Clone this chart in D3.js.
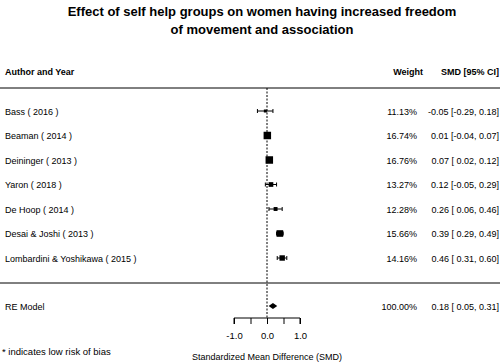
<!DOCTYPE html>
<html>
<head>
<meta charset="utf-8">
<script src="https://cdn.jsdelivr.net/npm/d3@7"></script>
<style>
body { margin: 0; background: #fff; }
text { font-family: "Liberation Sans", Arial, sans-serif; fill: #000; }
</style>
</head>
<body>
<div id="chart"></div>
<script>
var studies = ["Bass ( 2016 )", "Beaman ( 2014 )", "Deininger ( 2013 )", "Yaron ( 2018 )",
    "De Hoop ( 2014 )", "Desai & Joshi ( 2013 )", "Lombardini & Yoshikawa ( 2015 )"];
var smd = [-0.05, 0.01, 0.07, 0.12, 0.26, 0.39, 0.46];
var lower = [-0.29, -0.04, 0.02, -0.05, 0.06, 0.29, 0.31];
var upper = [0.18, 0.07, 0.12, 0.29, 0.46, 0.49, 0.60];
var weights = [11.13, 16.74, 16.76, 13.27, 12.28, 15.66, 14.16];
var pooled = { smd: 0.18, lower: 0.05, upper: 0.31, weight: 100.00 };
var ticks = [-1, -0.5, 0, 0.5, 1];
var tickLabels = ["-1.0", "", "0.0", "", "1.0"];

var svgWidth = 500, svgHeight = 364;

var svg = d3.select("#chart").append("svg")
    .attr("width", svgWidth)
    .attr("height", svgHeight);

var x = d3.scaleLinear().domain([-1, 1]).range([234, 300]);
var y = d3.scaleLinear().domain([0, 6]).range([111, 258]);
var boxSize = d3.scaleLinear().domain([d3.min(weights), d3.max(weights)]).range([3, 7.5]);

function fmt(v) {
    return (v < 0 ? "" : " ") + v.toFixed(2);
}
function ciText(m, lo, hi) {
    return m.toFixed(2) + " [" + fmt(lo) + ", " + hi.toFixed(2) + "]";
}

// title
svg.selectAll(".title")
    .data(["Effect of self help groups on women having increased freedom", "of movement and association"])
    .enter()
    .append("text")
    .attr("x", 262)
    .attr("y", function(d, i) { return 16 + i * 18; })
    .attr("text-anchor", "middle")
    .style("font-size", "13px")
    .style("font-weight", "bold")
    .text(function(d) { return d; });

// headers
svg.append("text").attr("x", 5).attr("y", 75).style("font-size", "9px").style("font-weight", "bold")
    .text("Author and Year");
svg.append("text").attr("x", 423).attr("y", 75).attr("text-anchor", "end")
    .style("font-size", "9px").style("font-weight", "bold").text("Weight");
svg.append("text").attr("x", 499).attr("y", 75).attr("text-anchor", "end")
    .style("font-size", "9px").style("font-weight", "bold").text("SMD [95% CI]");

// separator lines
svg.selectAll(".sep")
    .data([88, 283])
    .enter()
    .append("line")
    .attr("x1", 0).attr("x2", svgWidth)
    .attr("y1", function(d) { return d; })
    .attr("y2", function(d) { return d; })
    .attr("stroke", "#000")
    .attr("stroke-width", 1);

// reference line at 0
svg.append("line")
    .attr("x1", x(0)).attr("x2", x(0))
    .attr("y1", 88).attr("y2", 318)
    .attr("stroke", "#000")
    .attr("stroke-dasharray", "2,1.5");

var rows = svg.selectAll(".row")
    .data(studies)
    .enter()
    .append("g")
    .attr("transform", function(d, i) { return "translate(0," + y(i) + ")"; });

rows.append("text")
    .attr("x", 5).attr("y", 3.5)
    .style("font-size", "9px")
    .text(function(d) { return d; });

rows.append("line")
    .attr("x1", function(d, i) { return x(lower[i]); })
    .attr("x2", function(d, i) { return x(upper[i]); })
    .attr("y1", 0).attr("y2", 0)
    .attr("stroke", "#000");

rows.selectAll(".cap")
    .data(function(d, i) { return [lower[i], upper[i]]; })
    .enter()
    .append("line")
    .attr("x1", function(d) { return x(d); })
    .attr("x2", function(d) { return x(d); })
    .attr("y1", -2).attr("y2", 2)
    .attr("stroke", "#000");

rows.append("rect")
    .attr("x", function(d, i) { return x(smd[i]) - boxSize(weights[i]) / 2; })
    .attr("y", function(d, i) { return -boxSize(weights[i]) / 2; })
    .attr("width", function(d, i) { return boxSize(weights[i]); })
    .attr("height", function(d, i) { return boxSize(weights[i]); })
    .attr("fill", "#000");

rows.append("text")
    .attr("x", 417).attr("y", 3.5)
    .attr("text-anchor", "end")
    .style("font-size", "9px")
    .text(function(d, i) { return weights[i].toFixed(2) + "%"; });

rows.append("text")
    .attr("x", 499).attr("y", 3.5)
    .attr("text-anchor", "end")
    .style("font-size", "9px")
    .text(function(d, i) { return ciText(smd[i], lower[i], upper[i]); });

// pooled estimate
var yRE = 306;
svg.append("text").attr("x", 5).attr("y", yRE + 3.5).style("font-size", "9px").text("RE Model");
svg.append("path")
    .attr("d", "M" + x(pooled.lower) + "," + yRE + " L" + x(pooled.smd) + "," + (yRE - 3) +
        " L" + x(pooled.upper) + "," + yRE + " L" + x(pooled.smd) + "," + (yRE + 3) + "Z")
    .attr("fill", "#000");
svg.append("text").attr("x", 417).attr("y", yRE + 3.5).attr("text-anchor", "end")
    .style("font-size", "9px").text(pooled.weight.toFixed(2) + "%");
svg.append("text").attr("x", 499).attr("y", yRE + 3.5).attr("text-anchor", "end")
    .style("font-size", "9px").text(ciText(pooled.smd, pooled.lower, pooled.upper));

// axis
var axis = d3.axisBottom(x)
    .tickValues(ticks)
    .tickFormat(function(d, i) { return tickLabels[i]; })
    .tickSize(6)
    .tickPadding(8);

var gAxis = svg.append("g")
    .attr("transform", "translate(0,318)")
    .call(axis);
gAxis.select(".domain").attr("d", "M" + x(-1) + ",6V0H" + x(1) + "V6").attr("stroke", "#000");
gAxis.selectAll(".tick line").attr("stroke", "#000");
gAxis.selectAll(".tick text")
    .style("font-family", "Liberation Sans, Arial, sans-serif")
    .style("font-size", "9.5px")
    .attr("fill", "#000");

svg.append("text")
    .attr("x", x(0)).attr("y", 360)
    .attr("text-anchor", "middle")
    .style("font-size", "9px")
    .text("Standardized Mean Difference (SMD)");

svg.append("text")
    .attr("x", 2).attr("y", 355)
    .style("font-size", "9.5px")
    .text("* indicates low risk of bias");
</script>
</body>
</html>
